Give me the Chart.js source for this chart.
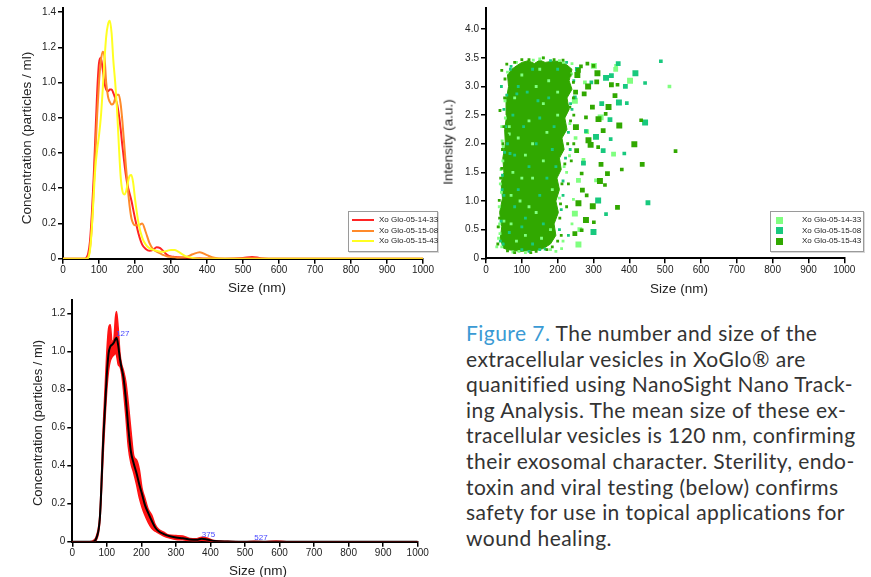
<!DOCTYPE html>
<html>
<head>
<meta charset="utf-8">
<script src="https://cdn.jsdelivr.net/npm/chart.js@4.4.1/dist/chart.umd.min.js"></script>
<style>
  body { margin: 0; width: 871px; height: 577px; background: #fff; position: relative; overflow: hidden;
         font-family: "Liberation Sans", Arial, sans-serif; }
  .box { position: absolute; }
  .axis-title { position: absolute; color: #222; white-space: nowrap; font-size: 13.5px; }
  .xtitle { transform: translate(-50%, -50%); }
  .ytitle { transform: translate(-50%, -50%) rotate(-90deg); }
  .legend { position: absolute; border: 1px solid #9a9a9a; box-shadow: 1px 1px 0 #d8d8d8; background: #fff;
            font-size: 8px; color: #222; }
  .legend .row { position: absolute; left: 0; right: 0; height: 10px; line-height: 10px; }
  .legend .swatch { position: absolute; }
  .legend .txt { position: absolute; white-space: nowrap; }
  #caption { position: absolute; left: 466px; top: 320px; font-family: Lato, "Open Sans", sans-serif; font-weight: 400;
             font-size: 21px; letter-spacing: 0.45px; line-height: 25.6px; color: #333; white-space: nowrap; }
  #caption .fig { color: #3a9ad4; }
</style>
</head>
<body>

<div class="box" style="left:0;top:0;width:440px;height:292px"><canvas id="sizeChart" width="440" height="292"></canvas></div>
<div class="box" style="left:430px;top:0;width:441px;height:292px"><canvas id="intensityChart" width="441" height="292"></canvas></div>
<div class="box" style="left:0;top:292px;width:440px;height:285px"><canvas id="meanChart" width="440" height="285"></canvas></div>

<div class="axis-title xtitle" style="left:257px;top:287px">Size (nm)</div>
<div class="axis-title ytitle" style="left:26px;top:138px">Concentration (particles / ml)</div>
<div class="axis-title xtitle" style="left:679px;top:288px">Size (nm)</div>
<div class="axis-title ytitle" style="left:448px;top:142px">Intensity (a.u.)</div>
<div class="axis-title xtitle" style="left:258px;top:570px">Size (nm)</div>
<div class="axis-title ytitle" style="left:37px;top:423px;font-size:13px">Concentration (particles / ml)</div>

<div class="legend" id="lineLegend" style="left:348px;top:211px;width:88px;height:39px"></div>
<div class="legend" id="dotLegend" style="left:770px;top:211px;width:92px;height:39px"></div>

<div id="caption"><span class="fig">Figure 7.</span> The number and size of the<br>extracellular vesicles in XoGlo® are<br>quanitified using NanoSight Nano Track-<br>ing Analysis. The mean size of these ex-<br>tracellular vesicles is 120 nm, confirming<br>their exosomal character. Sterility, endo-<br>toxin and viral testing (below) confirms<br>safety for use in topical applications for<br>wound healing.</div>

<script>
// ---- data ----
const sampleNames = ["Xo Glo-05-14-33", "Xo Glo-05-15-08", "Xo Glo-05-15-43"];

const sizeTicks = [0, 100, 200, 300, 400, 500, 600, 700, 800, 900, 1000];
const sizeLabels = ["0", "100", "200", "300", "400", "500", "600", "700", "800", "900", "1000"];
const concTicks = [0, 0.2, 0.4, 0.6, 0.8, 1.0, 1.2, 1.4];
const concLabels = ["0", "0.2", "0.4", "0.6", "0.8", "1.0", "1.2", "1.4"];
const intensityTicks = [0, 0.5, 1.0, 1.5, 2.0, 2.5, 3.0, 3.5, 4.0];
const intensityLabels = ["0", "0.5", "1.0", "1.5", "2.0", "2.5", "3.0", "3.5", "4.0"];
const meanTicks = [0, 0.2, 0.4, 0.6, 0.8, 1.0, 1.2];
const meanLabels = ["0", "0.2", "0.4", "0.6", "0.8", "1.0", "1.2"];

// top-left: size distributions of the three samples
const sizes = [0, 50, 60, 65, 70, 75, 80, 85, 90, 95, 100, 105, 110, 115, 120, 125, 130, 135, 140, 145, 150,
  155, 160, 165, 170, 175, 180, 185, 190, 195, 200, 210, 220, 230, 240, 250, 260, 270, 280, 290, 300, 310, 320,
  340, 360, 380, 400, 420, 450, 500, 525, 550, 600, 1000];
const conc1433 = [0, 0, 0, 0.005, 0.03, 0.1, 0.25, 0.45, 0.7, 0.95, 1.11, 1.14, 1.08, 1.0, 0.96, 0.95, 0.96,
  0.96, 0.94, 0.91, 0.88, 0.82, 0.74, 0.64, 0.55, 0.47, 0.41, 0.37, 0.33, 0.28, 0.23, 0.14, 0.08, 0.055, 0.045,
  0.05, 0.065, 0.06, 0.04, 0.02, 0.012, 0.01, 0.008, 0.005, 0.003, 0.002, 0.001, 0, 0, 0.004, 0.01, 0.003, 0, 0];
const conc1508 = [0, 0, 0, 0, 0.01, 0.06, 0.18, 0.38, 0.6, 0.82, 1.0, 1.12, 1.175, 1.15, 1.0, 0.92, 0.89,
  0.875, 0.88, 0.91, 0.93, 0.93, 0.88, 0.78, 0.65, 0.52, 0.4, 0.3, 0.23, 0.2, 0.19, 0.19, 0.2, 0.15, 0.09,
  0.055, 0.04, 0.03, 0.02, 0.013, 0.01, 0.008, 0.006, 0.008, 0.025, 0.037, 0.02, 0.005, 0, 0, 0, 0, 0, 0];
const conc1543 = [0, 0, 0, 0, 0.005, 0.05, 0.17, 0.35, 0.52, 0.62, 0.7, 0.8, 0.95, 1.12, 1.26, 1.33, 1.35,
  1.28, 1.12, 1.0, 0.85, 0.65, 0.47, 0.385, 0.365, 0.38, 0.43, 0.47, 0.475, 0.43, 0.34, 0.2, 0.12, 0.08, 0.06,
  0.05, 0.045, 0.04, 0.04, 0.045, 0.05, 0.05, 0.04, 0.015, 0.004, 0, 0, 0, 0, 0, 0, 0, 0, 0];

// top-right: size vs intensity, [size, intensity]
const coreOutline = [[48, 0.18], [40, 0.35], [44, 0.55], [38, 0.8], [46, 1.05], [42, 1.3], [50, 1.5], [47, 1.75],
  [54, 2.0], [52, 2.25], [58, 2.5], [56, 2.75], [63, 3.0], [60, 3.2], [72, 3.3], [85, 3.36], [100, 3.42],
  [118, 3.45], [135, 3.4], [150, 3.46], [165, 3.42], [185, 3.44], [205, 3.44], [225, 3.38], [240, 3.3],
  [232, 3.1], [240, 2.95], [226, 2.8], [232, 2.6], [220, 2.45], [226, 2.25], [212, 2.1], [218, 1.9], [205, 1.75],
  [210, 1.55], [198, 1.4], [205, 1.2], [195, 1.0], [202, 0.8], [190, 0.6], [195, 0.4], [180, 0.25], [160, 0.17],
  [140, 0.14], [115, 0.13], [95, 0.12], [75, 0.14], [60, 0.15], [48, 0.18]];
const dots1433 = [[512, 3.0], [362, 3.3], [320, 2.46], [307, 1.36], [356, 1.82], [402, 3.1], [363, 3.36],
  [281, 2.21], [258, 0.24], [211, 0.17], [160, 3.5], [132, 3.46], [272, 1.72], [233, 1.79], [248, 0.78],
  [244, 1.03], [258, 1.36], [301, 3.36], [276, 3.07], [239, 3.22], [216, 3.42], [53, 2.75], [39, 0.43], [30, 0.2],
  [65, 2.17], [37, 0.9], [40, 1.3], [35, 0.35], [44, 2.3], [47, 1.7], [240, 0.6], [262, 0.5], [225, 1.5],
  [250, 2.1], [60, 3.25], [85, 3.42], [150, 3.48], [195, 0.12], [110, 0.1], [92, 0.12], [205, 3.45], [240, 3.4],
  [42, 1.55], [50, 0.65], [36, 0.55], [45, 2.05], [80, 2.8], [100, 3.2], [140, 3.0], [160, 2.7], [120, 2.4],
  [90, 2.1], [170, 2.2], [110, 1.8], [75, 1.5], [130, 1.4], [160, 1.7], [95, 1.0], [140, 0.8], [70, 0.6],
  [110, 0.4], [180, 0.5], [200, 2.9], [185, 1.2], [65, 2.3], [150, 3.3], [120, 0.9], [85, 0.3], [155, 0.35],
  [100, 1.4], [130, 2.0], [200, 2.5], [175, 3.1], [70, 1.1], [44, 0.2], [38, 0.6], [43, 1.15], [48, 1.95],
  [54, 2.45], [215, 0.3], [205, 1.05], [218, 1.6], [234, 2.35], [248, 2.75], [180, 0.15], [75, 0.11]];
const dots1508 = [[488, 3.44], [369, 3.4], [417, 3.23], [444, 3.06], [389, 3.0], [371, 2.72], [393, 2.71],
  [350, 3.19], [335, 3.15], [348, 2.08], [327, 1.88], [444, 2.37], [279, 2.22], [272, 1.66], [313, 1.01],
  [335, 0.77], [452, 0.97], [300, 0.46], [294, 3.07], [323, 2.7], [307, 2.12], [386, 1.83], [346, 2.42],
  [225, 3.42], [248, 2.81], [86, 2.87], [67, 1.83], [40, 0.3], [45, 1.2], [50, 2.6], [43, 3.0], [215, 1.1],
  [230, 0.4], [240, 2.6], [255, 3.3], [235, 1.9], [100, 0.15], [150, 0.15], [180, 3.45], [70, 3.35], [90, 3.0],
  [130, 3.3], [115, 2.9], [175, 2.8], [150, 2.45], [75, 2.5], [105, 2.3], [190, 2.3], [140, 2.0], [80, 1.8],
  [120, 1.6], [170, 1.4], [90, 1.2], [150, 1.1], [110, 0.7], [80, 0.9], [160, 0.6], [130, 0.25], [200, 3.3],
  [60, 2.0], [185, 1.9], [100, 0.55], [195, 1.6], [145, 2.75], [65, 0.45], [48, 0.25], [42, 0.65], [50, 1.1],
  [46, 1.45], [52, 1.85], [55, 2.3], [58, 2.85], [68, 3.3], [205, 0.5], [210, 0.85], [215, 1.35], [222, 1.75],
  [230, 2.2], [236, 2.7], [245, 3.1], [120, 0.12], [165, 0.16]];
const dots1543 = [[529, 1.87], [436, 1.64], [414, 1.99], [433, 2.41], [367, 0.89], [372, 2.32], [367, 3.03],
  [350, 3.03], [342, 2.64], [379, 1.55], [339, 1.48], [318, 1.35], [301, 0.63], [309, 3.08], [311, 3.23],
  [332, 1.28], [297, 2.64], [292, 1.98], [313, 1.94], [321, 1.64], [298, 0.91], [281, 1.1], [269, 1.19],
  [286, 2.06], [279, 2.46], [274, 2.87], [285, 3.0], [300, 3.36], [258, 3.28], [244, 3.07], [283, 3.4],
  [327, 2.23], [314, 2.43], [334, 2.52], [360, 2.84], [279, 0.67], [267, 0.49], [248, 0.43], [258, 0.96],
  [267, 1.48], [253, 1.88], [251, 2.29], [234, 2.64], [44, 3.28], [58, 3.39], [72, 2.96], [53, 3.13], [39, 2.58],
  [47, 2.0], [44, 1.57], [37, 1.01], [34, 0.55], [33, 0.25], [38, 0.7], [41, 1.4], [46, 1.9], [50, 2.3], [52, 2.8],
  [210, 0.4], [225, 0.9], [230, 1.3], [238, 1.7], [245, 2.0], [245, 2.5], [250, 2.9], [255, 3.2], [265, 3.35],
  [120, 3.47], [190, 3.47], [60, 0.13], [140, 0.12], [170, 0.15], [55, 0.3], [50, 0.95], [52, 1.25], [56, 1.65],
  [60, 2.15], [64, 2.65], [66, 3.15], [80, 3.42], [100, 3.47], [160, 3.5], [215, 3.46], [235, 3.2], [244, 2.8],
  [236, 2.4], [228, 2.0], [220, 1.65], [212, 1.3], [208, 0.95], [206, 0.7], [200, 0.3], [185, 0.2], [125, 0.1],
  [80, 0.1]];

// bottom-left: averaged distribution with its spread
const meanSizes = [0, 50, 60, 70, 80, 90, 100, 105, 110, 115, 120, 125, 128, 133, 138, 143, 148, 155, 162, 170,
  178, 186, 194, 202, 210, 220, 230, 240, 250, 265, 280, 300, 320, 340, 360, 375, 390, 410, 450, 500, 527, 560,
  590, 620, 1000];
const meanConc = [0, 0, 0, 0.02, 0.13, 0.55, 0.88, 0.99, 1.025, 1.035, 1.045, 1.065, 1.072, 1.03, 0.96, 0.91,
  0.865, 0.75, 0.6, 0.47, 0.41, 0.36, 0.3, 0.25, 0.195, 0.15, 0.11, 0.075, 0.055, 0.04, 0.03, 0.022, 0.018,
  0.012, 0.01, 0.016, 0.012, 0.004, 0.001, 0, 0, 0, 0, 0, 0];
const upperConc = [0, 0, 0.005, 0.03, 0.15, 0.62, 1.0, 1.12, 1.14, 1.05, 1.06, 1.18, 1.21, 1.12, 0.99, 0.93,
  0.9, 0.84, 0.73, 0.58, 0.45, 0.43, 0.38, 0.28, 0.23, 0.17, 0.14, 0.09, 0.065, 0.05, 0.035, 0.032, 0.03,
  0.017, 0.015, 0.024, 0.02, 0.006, 0.002, 0, 0.002, 0, 0.004, 0, 0];
const lowerConc = [0, 0, 0, 0.01, 0.11, 0.48, 0.8, 0.9, 0.95, 0.97, 0.98, 0.99, 0.98, 0.93, 0.92, 0.88, 0.8,
  0.66, 0.5, 0.41, 0.36, 0.3, 0.23, 0.18, 0.14, 0.1, 0.07, 0.055, 0.045, 0.03, 0.02, 0.012, 0.01, 0.006, 0.005,
  0.008, 0.005, 0.001, 0, 0, 0, 0, 0, 0, 0];
const peakSizes = [127, 375, 527];
const peakConc = [1.072, 0.016, 0];

// ---- shared styling ----
const FONT = '"Liberation Sans", Arial, sans-serif';
const lineColors = ["#ff2424", "#ff8a2a", "#ffff22"];
const dotColors = ["#80ff80", "#18c97e", "#31a800"];

const toPoints = (xs, ys) => xs.map((x, i) => ({ x: x, y: ys[i] }));
const pairs = list => list.map(p => ({ x: p[0], y: p[1] }));

function xAxis(height) {
  return {
    type: "linear", min: 0, max: 1000,
    afterBuildTicks: a => { a.ticks = sizeTicks.map(v => ({ value: v })); },
    afterFit: s => { s.height = height; },
    grid: { display: true, drawOnChartArea: false, drawTicks: true, tickLength: 5, color: "#000", lineWidth: 1.5 },
    border: { display: true, color: "#000", width: 2 },
    ticks: { color: "#222", font: { size: 10, family: FONT }, padding: 1, maxRotation: 0, autoSkip: false,
             callback: (v, i) => sizeLabels[i] }
  };
}

function yAxis(width, max, ticks, labels) {
  return {
    min: 0, max: max,
    afterBuildTicks: a => { a.ticks = ticks.map(v => ({ value: v })); },
    afterFit: s => { s.width = width; },
    grid: { display: true, drawOnChartArea: false, drawTicks: true, tickLength: 5, color: "#000", lineWidth: 1.5 },
    border: { display: true, color: "#000", width: 2 },
    ticks: { color: "#222", font: { size: 10, family: FONT }, padding: 2, autoSkip: false,
             callback: (v, i) => labels[i] }
  };
}

const baseOptions = {
  responsive: false,
  animation: false,
  events: [],
  plugins: { legend: { display: false }, tooltip: { enabled: false } }
};

// top-left chart
new Chart(document.getElementById("sizeChart"), {
  type: "line",
  data: {
    datasets: [conc1433, conc1508, conc1543].map((vals, i) => ({
      label: sampleNames[i],
      data: toPoints(sizes, vals),
      borderColor: lineColors[i],
      borderWidth: 2,
      pointRadius: 0,
      fill: false,
      cubicInterpolationMode: "monotone",
      order: 3 - i
    }))
  },
  options: {
    ...baseOptions,
    layout: { padding: { top: 7, right: 17, left: 0, bottom: 0 } },
    scales: { x: xAxis(292 - 258.7), y: yAxis(63, 1.423, concTicks, concLabels) }
  }
});

// top-right chart
const dotRadius = ctx => {
  const p = ctx.raw;
  if (!p) return 2;
  return p.x > 245 ? 2.6 + (ctx.dataIndex % 3) * 0.8 : 2;
};

new Chart(document.getElementById("intensityChart"), {
  type: "scatter",
  data: {
    datasets: [
      {
        type: "line",
        label: "core",
        data: pairs(coreOutline),
        borderColor: dotColors[2],
        backgroundColor: dotColors[2],
        borderWidth: 1,
        pointRadius: 0,
        tension: 0,
        fill: "shape",
        order: 9
      },
      ...[dots1433, dots1508, dots1543].map((list, i) => ({
        label: sampleNames[i],
        data: pairs(list),
        pointStyle: "rect",
        pointRadius: dotRadius,
        backgroundColor: dotColors[i],
        borderWidth: 0,
        order: 3 - i
      }))
    ]
  },
  options: {
    ...baseOptions,
    layout: { padding: { top: 7.3, right: 26.7, left: 0, bottom: 0 } },
    scales: { x: xAxis(292 - 258.3), y: yAxis(56, 4.37, intensityTicks, intensityLabels) }
  }
});

// bottom-left chart: peak labels in blue
const peakLabels = {
  id: "peakLabels",
  afterDatasetsDraw(chart) {
    const { ctx, scales: { x, y } } = chart;
    ctx.save();
    ctx.font = "8px " + FONT;
    ctx.fillStyle = "#4646ff";
    ctx.textAlign = "left";
    ctx.textBaseline = "alphabetic";
    peakSizes.forEach((s, i) => {
      ctx.fillText(String(s), x.getPixelForValue(s), y.getPixelForValue(peakConc[i]) - 2);
    });
    ctx.restore();
  }
};

new Chart(document.getElementById("meanChart"), {
  type: "line",
  data: {
    datasets: [
      { label: "upper", data: toPoints(meanSizes, upperConc), borderColor: "#ff1414", backgroundColor: "#ff1414",
        borderWidth: 1.5, pointRadius: 0, fill: "+1", cubicInterpolationMode: "monotone", order: 2 },
      { label: "lower", data: toPoints(meanSizes, lowerConc), borderColor: "#ff1414", borderWidth: 1.5,
        pointRadius: 0, fill: false, cubicInterpolationMode: "monotone", order: 3 },
      { label: "mean", data: toPoints(meanSizes, meanConc), borderColor: "#000", borderWidth: 2,
        pointRadius: 0, fill: false, cubicInterpolationMode: "monotone", order: 1 }
    ]
  },
  options: {
    ...baseOptions,
    layout: { padding: { top: 8, right: 22.3, left: 0, bottom: 0 } },
    scales: { x: xAxis(285 - 249.7), y: yAxis(72.3, 1.27, meanTicks, meanLabels) }
  },
  plugins: [peakLabels]
});

// legends
const rowCenters = [8.3, 18.8, 29.2];
const lineLegend = document.getElementById("lineLegend");
const dotLegend = document.getElementById("dotLegend");
sampleNames.forEach((name, i) => {
  const r1 = document.createElement("div");
  r1.className = "row";
  r1.style.top = (rowCenters[i] - 5) + "px";
  r1.innerHTML = `<span class="swatch" style="left:3px;top:4px;width:22px;height:2px;background:${lineColors[i]}"></span>
    <span class="txt" style="left:30px;top:0">${name}</span>`;
  lineLegend.appendChild(r1);

  const r2 = document.createElement("div");
  r2.className = "row";
  r2.style.top = (rowCenters[i] - 5) + "px";
  r2.innerHTML = `<span class="swatch" style="left:5px;top:1.5px;width:7px;height:7px;background:${dotColors[i]}"></span>
    <span class="txt" style="left:31px;top:0">${name}</span>`;
  dotLegend.appendChild(r2);
});
</script>
</body>
</html>
